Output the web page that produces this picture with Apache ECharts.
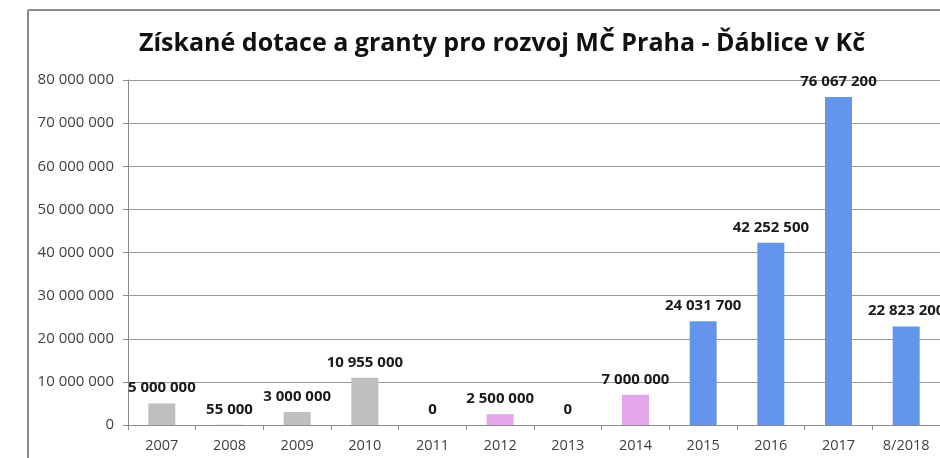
<!DOCTYPE html>
<html><head><meta charset="utf-8">
<script src="https://cdn.jsdelivr.net/npm/echarts@6/dist/echarts.min.js"></script>
<style>html,body{margin:0;padding:0;background:#fff}#c{width:940px;height:458px}</style>
</head><body><div id="c"></div>
<script>
const titleText = 'Získané dotace a granty pro rozvoj MČ Praha - Ďáblice v Kč';
const categories = ['2007','2008','2009','2010','2011','2012','2013','2014','2015','2016','2017','8/2018'];
const values = [5000000, 55000, 3000000, 10955000, 0, 2500000, 0, 7000000, 24031700, 42252500, 76067200, 22823200];
const yTicks = [0, 10000000, 20000000, 30000000, 40000000, 50000000, 60000000, 70000000, 80000000];

function fmt(v){ return String(v).replace(/\B(?=(\d{3})+(?!\d))/g, ' '); }
function barColor(i){ return i <= 4 ? '#bfbfbf' : (i <= 7 ? '#e3a6ea' : '#6495ed'); }

const chart = echarts.init(document.getElementById('c'), null, {renderer:'canvas'});
chart.setOption({
  backgroundColor:'#ffffff',
  animation:false,
  title:{text:titleText,left:497,top:26,textAlign:'center',
    textStyle:{fontFamily:'Open Sans',fontWeight:'bold',fontSize:25,color:'#111'}},
  graphic:[
    {type:'line',shape:{x1:28,y1:10,x2:940,y2:10},style:{stroke:'#8a8a8a',lineWidth:2}},
    {type:'line',shape:{x1:28,y1:10,x2:28,y2:458},style:{stroke:'#8a8a8a',lineWidth:2}}
  ],
  grid:{left:128,top:80,width:819,height:345,containLabel:false},
  xAxis:{type:'category',data:categories,
    axisLine:{lineStyle:{color:'#8c8c8c',width:1}},
    axisTick:{show:true,length:5,lineStyle:{color:'#8c8c8c'}},
    axisLabel:{fontFamily:'Open Sans',fontSize:14.5,color:'#404040',margin:13}},
  yAxis:{type:'value',min:yTicks[0],max:yTicks[yTicks.length-1],interval:yTicks[1]-yTicks[0],
    axisLine:{show:true,lineStyle:{color:'#8c8c8c'}},
    axisTick:{show:true,length:5,lineStyle:{color:'#8c8c8c'}},
    splitLine:{lineStyle:{color:'#999999',width:1}},
    axisLabel:{fontFamily:'Open Sans',fontSize:15,color:'#404040',margin:14,formatter:fmt}},
  series:[{type:'bar',data:values,barWidth:27,
    itemStyle:{color:p=>barColor(p.dataIndex)},
    label:{show:true,position:'top',distance:8,fontFamily:'Open Sans',fontWeight:'bold',fontSize:15,color:'#1a1a1a',
      formatter:p=>fmt(p.value)}}]
});
</script></body></html>
